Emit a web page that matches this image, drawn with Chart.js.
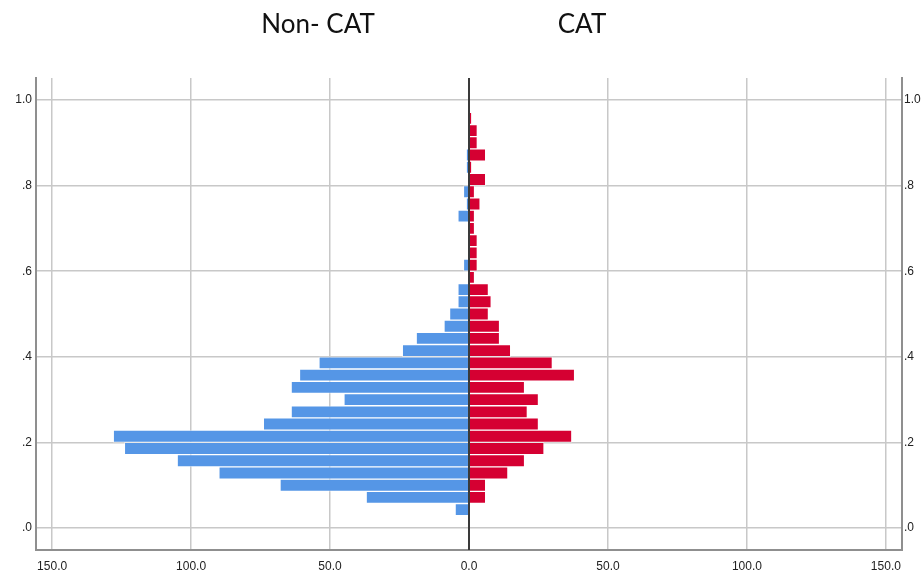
<!DOCTYPE html>
<html>
<head>
<meta charset="utf-8">
<script src="https://cdn.jsdelivr.net/npm/chart.js@4.4.1/dist/chart.umd.min.js"></script>
<style>
  html, body { margin: 0; padding: 0; background: #fff; }
  #wrap { position: relative; width: 924px; height: 579px; }
</style>
</head>
<body>
<div id="wrap"><canvas id="pyramidChart"></canvas></div>
<script>
// bin midpoints on the vertical axis (bins of 1/35)
const binMids = [0.0429, 0.0714, 0.1000, 0.1286, 0.1571, 0.1857, 0.2143, 0.2429, 0.2714, 0.3000,
  0.3286, 0.3571, 0.3857, 0.4143, 0.4429, 0.4714, 0.5000, 0.5286, 0.5571, 0.5857,
  0.6143, 0.6429, 0.6714, 0.7000, 0.7286, 0.7571, 0.7857, 0.8143, 0.8429, 0.8714,
  0.9000, 0.9286, 0.9571];

const nonCatCounts = [5, 37, 68, 90, 105, 124, 128, 74, 64, 45,
  64, 61, 54, 24, 19, 9, 7, 4, 4, 0,
  2, 0, 0, 0, 4, 1, 2, 0, 1, 1,
  0, 0, 0];

const catCounts = [0, 6, 6, 14, 20, 27, 37, 25, 21, 25,
  20, 38, 30, 15, 11, 11, 7, 8, 7, 2,
  3, 3, 3, 2, 2, 4, 2, 6, 1, 6,
  3, 3, 1];

const xTicks = [-150, -100, -50, 0, 50, 100, 150];
const yTicks = [0, 0.2, 0.4, 0.6, 0.8, 1.0];
const groupTitles = ['Non- CAT', 'CAT'];

const tickFont = { family: "'Liberation Sans', Arial, sans-serif", size: 12 };
const yLabel = v => v.toFixed(1).replace(/^0/, '');

const headerPlugin = {
  id: 'header',
  afterDraw(chart) {
    const ctx = chart.ctx;
    ctx.save();
    ctx.fillStyle = '#111';
    ctx.font = "26px Lato, 'Open Sans', sans-serif";
    ctx.textAlign = 'center';
    ctx.textBaseline = 'alphabetic';
    ctx.fillText(groupTitles[0], 318, 33);
    ctx.fillText(groupTitles[1], 582, 33);
    ctx.restore();
  }
};

const zeroLinePlugin = {
  id: 'zeroLine',
  afterDatasetsDraw(chart) {
    const x = chart.scales.x.getPixelForValue(0);
    const area = chart.chartArea;
    const ctx = chart.ctx;
    ctx.save();
    ctx.strokeStyle = '#3a3a3a';
    ctx.lineWidth = 2;
    ctx.beginPath();
    ctx.moveTo(x, area.top);
    ctx.lineTo(x, area.bottom);
    ctx.stroke();
    ctx.restore();
  }
};

new Chart(document.getElementById('pyramidChart'), {
  type: 'bar',
  data: {
    datasets: [{
      label: groupTitles[0],
      data: binMids.map((y, i) => ({ y: y, x: -nonCatCounts[i] })),
      backgroundColor: '#5596e6',
      borderColor: 'rgba(255,255,255,0.45)',
      borderWidth: 1,
      barPercentage: 1,
      categoryPercentage: 1
    }, {
      label: groupTitles[1],
      data: binMids.map((y, i) => ({ y: y, x: catCounts[i] })),
      backgroundColor: '#d50032',
      borderColor: 'rgba(255,255,255,0.45)',
      borderWidth: 1,
      barPercentage: 1,
      categoryPercentage: 1
    }]
  },
  options: {
    indexAxis: 'y',
    responsive: true,
    maintainAspectRatio: false,
    animation: false,
    layout: { padding: { top: 78, left: 0, right: 0, bottom: 0 } },
    plugins: {
      legend: { display: false },
      tooltip: { enabled: false }
    },
    scales: {
      x: {
        type: 'linear',
        stacked: true,
        min: -155.8,
        max: 155.8,
        afterBuildTicks: s => { s.ticks = xTicks.map(v => ({ value: v })); },
        afterFit: s => { s.height = 29; },
        grid: {
          color: ctx => ctx.tick && ctx.tick.value === 0 ? 'rgba(0,0,0,0)' : '#c8c8c8',
          lineWidth: 1.5,
          drawTicks: false
        },
        border: { display: true, color: '#8f8f8f', width: 2 },
        ticks: {
          padding: 9,
          color: '#222',
          font: tickFont,
          maxRotation: 0,
          callback: v => Math.abs(v).toFixed(1)
        }
      },
      y: {
        type: 'linear',
        position: 'left',
        stacked: true,
        offset: false,
        min: -0.0514,
        max: 1.0514,
        afterBuildTicks: s => { s.ticks = yTicks.map(v => ({ value: v })); },
        afterFit: s => { s.width = 36; },
        grid: { offset: false, color: '#c8c8c8', lineWidth: 1.5, drawTicks: false },
        border: { display: true, color: '#8f8f8f', width: 2 },
        ticks: { padding: 4, color: '#222', font: tickFont, callback: yLabel }
      },
      y2: {
        type: 'linear',
        position: 'right',
        offset: false,
        min: -0.0514,
        max: 1.0514,
        afterBuildTicks: s => { s.ticks = yTicks.map(v => ({ value: v })); },
        afterFit: s => { s.width = 22; },
        grid: { display: false, offset: false, drawTicks: false },
        border: { display: true, color: '#8f8f8f', width: 2 },
        ticks: { padding: 2, color: '#222', font: tickFont, callback: yLabel }
      }
    }
  },
  plugins: [headerPlugin, zeroLinePlugin]
});
</script>
</body>
</html>
